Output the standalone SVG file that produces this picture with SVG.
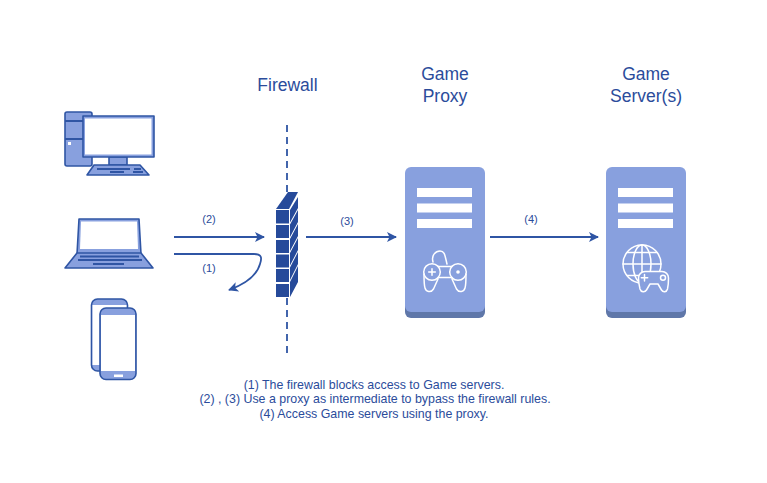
<svg xmlns="http://www.w3.org/2000/svg" width="767" height="483" viewBox="0 0 767 483">
<style>
text{font-family:"Liberation Sans",Arial,sans-serif;fill:#2b4c9b;text-anchor:middle}
.t{font-size:17.5px}.s{font-size:11px}.n{font-size:12.4px}
.o{stroke:#2f55a4;stroke-width:1.6;stroke-linejoin:round;fill:#88a0de}
.w{fill:#fff}
.g{fill:none;stroke:#fff;stroke-width:1.5;stroke-linecap:round;stroke-linejoin:round}
.c{fill:none;stroke:#2f55a4;stroke-width:1.8}
.br{fill:#264a9a}
</style>
<defs>
<marker id="a" viewBox="0 0 10 10" refX="9" refY="5" markerWidth="12" markerHeight="10" markerUnits="userSpaceOnUse" orient="auto"><path d="M0 0L10 5L0 10L2.500 5Z" fill="#2f55a4"/></marker>
<g id="srv">
<rect x="0" y="4" width="80" height="147" rx="6" fill="#5f77a9"/>
<rect x="0" y="0" width="80" height="145" rx="6" fill="#88a0de"/>
<rect x="12" y="21" width="55" height="9" class="w"/>
<rect x="12" y="36.500" width="55" height="9" class="w"/>
<rect x="12" y="52" width="55" height="9" class="w"/>
</g>
</defs>
<rect width="767" height="483" fill="#fff"/>
<g id="labels">
<text x="287.500" y="91" class="t">Firewall</text>
<text x="445" y="80" class="t">Game</text>
<text x="445" y="102" class="t">Proxy</text>
<text x="646" y="80" class="t">Game</text>
<text x="646" y="102" class="t">Server(s)</text>
<text x="374" y="389" class="n">(1) The firewall blocks access to Game servers.</text>
<text x="375" y="402.500" class="n">(2) , (3) Use a proxy as intermediate to bypass the firewall rules.</text>
<text x="374" y="417.500" class="n">(4) Access Game servers using the proxy.</text>
</g>
<g id="connectors">
<line x1="287" y1="125" x2="287" y2="192" class="c" stroke-dasharray="7 5"/>
<line x1="287" y1="298" x2="287" y2="354" class="c" stroke-dasharray="7 5"/>
<line x1="174" y1="237" x2="264" y2="237" class="c" marker-end="url(#a)"/>
<path d="M174 254H254C262 254 262 258 260 264C257 275 245 284 229 290" class="c" marker-end="url(#a)"/>
<line x1="306" y1="237" x2="396" y2="237" class="c" marker-end="url(#a)"/>
<line x1="490" y1="237" x2="598" y2="237" class="c" marker-end="url(#a)"/>
<text x="209" y="223" class="s">(2)</text>
<text x="209" y="272" class="s">(1)</text>
<text x="347" y="225" class="s">(3)</text>
<text x="531" y="223" class="s">(4)</text>
</g>
<g id="desktop">
<path d="M65 114a2 2 0 0 1 2-2H90a2 2 0 0 1 2 2V164a2 2 0 0 1-2 2H67a2 2 0 0 1-2-2Z" class="o"/>
<path d="M65 121H92M65 139H92" class="c"/>
<rect x="68" y="142" width="3" height="3" class="w"/>
<rect x="109" y="157" width="18" height="8" class="o"/>
<rect x="83" y="116" width="71" height="41" class="o"/>
<rect x="85" y="118.500" width="66.500" height="36" class="w"/>
<path d="M94 165H140L149 175H87Z" class="o"/>
<path d="M97 169H130M134 169H141M110 172H124M133 172H143" class="c" stroke-width="1"/>
</g>
<g id="laptop">
<path d="M79 219H139L141 254H77Z" class="o"/>
<path d="M81 221.500H137L138 249H80Z" class="w"/>
<path d="M77 253H141L153 268H65Z" class="o"/>
<path d="M80 256.500H139M78 260H142M93 264H124" class="c" stroke-width="1"/>
</g>
<g id="phones">
<rect x="91.500" y="299" width="36" height="72" rx="6" class="o"/>
<rect x="92.500" y="305" width="34" height="60" class="w"/>
<rect x="100" y="308" width="36" height="71.500" rx="6" class="o"/>
<rect x="101" y="315" width="34" height="56" class="w"/>
<rect x="114" y="374.500" width="9" height="2.500" class="w"/>
</g>
<g id="firewall">
<path d="M276 209L288 192H298L289 209Z" class="br"/>
<path d="M290 210L298 197V208L290 222.500ZM290 224.500L298 210V222L290 237ZM290 239L298 224V236L290 251ZM290 253L298 238V250L290 265.500ZM290 267.500L298 252V264L290 280ZM290 282L298 266V282L290 297Z" class="br"/>
<rect x="276" y="210" width="13" height="13.500" class="br"/>
<rect x="276" y="225" width="13" height="13" class="br"/>
<rect x="276" y="240" width="13" height="13" class="br"/>
<rect x="276" y="254.500" width="13" height="13" class="br"/>
<rect x="276" y="269" width="13" height="13" class="br"/>
<rect x="276" y="284" width="13" height="13" class="br"/>
</g>
<g id="game-proxy">
<use href="#srv" x="405" y="167"/>
<path d="M433 262C431 255 436 251 440 251C445 251 445 256 447 264" class="g" stroke-width="1.300"/>
<circle cx="432" cy="272" r="8.300" class="g"/>
<circle cx="458" cy="272" r="8.300" class="g"/>
<path d="M438 266.500H452M438 277.500H452M424 274C424 281 424 285 425 288C426 292 431 293 433.500 289L438 279M466 274C466 281 466 285 465 288C464 292 459 293 456.500 289L452 279" class="g"/>
<path d="M432 268.700V275.300M428.700 272H435.300" class="g"/>
<circle cx="458" cy="272" r="1.800" fill="#fff"/>
</g>
<g id="game-server">
<use href="#srv" x="606" y="167"/>
<circle cx="642" cy="264" r="19" class="g"/>
<ellipse cx="642" cy="264" rx="9" ry="19" class="g"/>
<path d="M642 245V283M623 264H661M627 252.500H657M627 275.500H640" class="g"/>
<path d="M645 271.500H662A6.500 6.500 0 0 1 668.500 278C668.500 283 668 287 667.500 289C666.500 292.500 663 292.500 661.500 290L658 284H650L646.500 290C645 292.500 641 292.500 640 289C639.500 287 638.500 283 638.500 278A6.500 6.500 0 0 1 645 271.500Z" fill="#88a0de" stroke="#fff" stroke-width="1.500" stroke-linejoin="round"/>
<path d="M644.500 274.500V281M641.300 277.700H647.700" class="g"/>
<circle cx="663" cy="277.700" r="2.500" class="g"/>
</g>
</svg>
